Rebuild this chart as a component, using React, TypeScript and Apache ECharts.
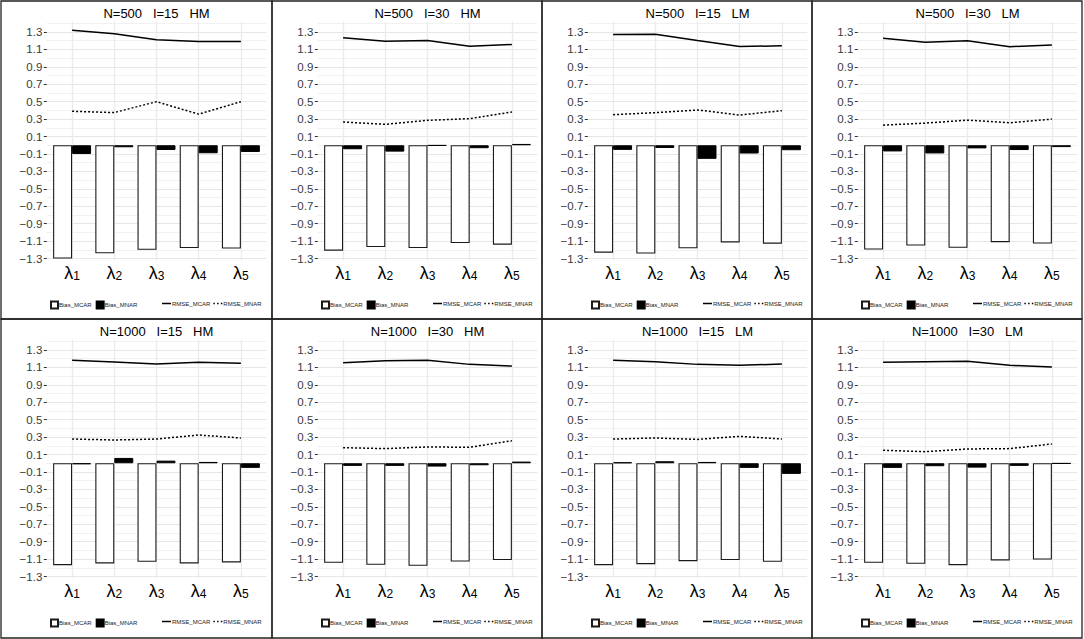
import React, { useEffect, useRef } from 'react';
import * as echarts from 'echarts';

// ---------- data ----------
const categories = ['λ1', 'λ2', 'λ3', 'λ4', 'λ5'];

const panelTitles = [
  'N=500   I=15   HM',
  'N=500   I=30   HM',
  'N=500   I=15   LM',
  'N=500   I=30   LM',
  'N=1000   I=15   HM',
  'N=1000   I=30   HM',
  'N=1000   I=15   LM',
  'N=1000   I=30   LM',
];

const seriesNames = ['Bias_MCAR', 'Bias_MNAR', 'RMSE_MCAR', 'RMSE_MNAR'];

const biasMCAR = [
  [-1.3, -1.24, -1.2, -1.18, -1.185],
  [-1.21, -1.168, -1.18, -1.122, -1.141],
  [-1.233, -1.244, -1.183, -1.115, -1.13],
  [-1.197, -1.151, -1.178, -1.113, -1.128],
  [-1.17, -1.15, -1.131, -1.15, -1.139],
  [-1.143, -1.166, -1.177, -1.128, -1.112],
  [-1.17, -1.158, -1.124, -1.112, -1.131],
  [-1.143, -1.154, -1.17, -1.116, -1.105],
];

const biasMNAR = [
  [-0.1, -0.023, -0.054, -0.092, -0.077],
  [-0.046, -0.073, -0.004, -0.034, 0.015],
  [-0.053, -0.031, -0.156, -0.095, -0.057],
  [-0.071, -0.094, -0.036, -0.055, -0.021],
  [-0.011, 0.061, 0.03, 0.015, -0.053],
  [-0.03, -0.03, -0.038, -0.023, 0.019],
  [0.011, 0.023, 0.015, -0.053, -0.122],
  [-0.053, -0.034, -0.05, -0.03, -0.004],
];

const rmseMCAR = [
  [1.32, 1.28, 1.21, 1.19, 1.19],
  [1.233, 1.195, 1.202, 1.137, 1.156],
  [1.271, 1.275, 1.202, 1.134, 1.141],
  [1.227, 1.181, 1.2, 1.132, 1.151],
  [1.181, 1.162, 1.139, 1.158, 1.147],
  [1.154, 1.177, 1.181, 1.135, 1.116],
  [1.181, 1.166, 1.135, 1.124, 1.139],
  [1.158, 1.166, 1.17, 1.124, 1.105],
];

const rmseMNAR = [
  [0.39, 0.375, 0.5, 0.357, 0.5],
  [0.267, 0.24, 0.286, 0.305, 0.382],
  [0.351, 0.374, 0.405, 0.347, 0.397],
  [0.231, 0.254, 0.288, 0.258, 0.3],
  [0.278, 0.267, 0.278, 0.324, 0.29],
  [0.179, 0.168, 0.187, 0.183, 0.259],
  [0.278, 0.29, 0.274, 0.309, 0.278],
  [0.149, 0.133, 0.164, 0.168, 0.221],
];

// y axis tick labels: -1.3 .. 1.3 every 0.2; grid lines every 0.1
const yLabelMin = -1.3;
const yLabelMax = 1.3;
const yLabelStep = 0.2;
const yGridMin = -1.3;
const yGridMax = 1.4;
const yGridStep = 0.1;
const yViewMin = -1.32;
const yViewMax = 1.42;

// ---------- layout ----------
const FONT = '"Liberation Sans", Arial, Helvetica, sans-serif';
const COL_EDGES = [1, 272, 542, 812, 1082];
const ROW_EDGES = [1, 319, 638];
const UNIT = 42.2; // px per category
const PX_PER_Y = 226.5 / 2.6;

const SOLID_ICON = 'path://M0,0H12V2H0Z';
const DASH_ICON = 'path://M0,0H2V2H0ZM5,0H7V2H5ZM10,0H12V2H10Z';

function fmtY(v: number): string {
  const r = Math.round(v * 10) / 10;
  const s = Math.abs(r).toFixed(1);
  return r < 0 ? '\u2212' + s : s;
}

function buildOption() {
  const grid: any[] = [];
  const xAxis: any[] = [];
  const yAxis: any[] = [];
  const series: any[] = [];
  const legend: any[] = [];
  const graphic: any[] = [];

  for (let p = 0; p < 8; p++) {
    const c = p % 4;
    const r = Math.floor(p / 4);
    const xb = COL_EDGES[c];
    const yb = ROW_EDGES[r];
    const yPix = (v: number) => yb + 31 + (1.3 - v) * PX_PER_Y;

    const gA = grid.length;
    grid.push({
      left: xb + 50,
      top: yPix(yViewMax),
      width: 5 * UNIT,
      height: yPix(yViewMin) - yPix(yViewMax),
      containLabel: false,
      outerBoundsMode: 'none',
    });
    grid.push({
      left: xb + 45.8,
      top: yPix(yGridMax),
      width: 5.2 * UNIT,
      height: yPix(yGridMin) - yPix(yGridMax),
      containLabel: false,
      outerBoundsMode: 'none',
    });
    grid.push({
      left: xb + 45.8,
      top: yPix(yLabelMax),
      width: 5.2 * UNIT,
      height: yPix(yLabelMin) - yPix(yLabelMax),
      containLabel: false,
      outerBoundsMode: 'none',
    });

    const xi = xAxis.length;
    xAxis.push({
      type: 'category',
      gridIndex: gA,
      data: categories,
      axisLine: { show: false },
      axisTick: { show: false },
      splitLine: { show: false },
      axisLabel: {
        interval: 0,
        margin: 2,
        formatter: (v: string) => `{l|${v.charAt(0)}}{s|${v.slice(1)}}`,
        rich: {
          l: { fontSize: 18, lineHeight: 20, color: '#000', fontFamily: FONT, verticalAlign: 'bottom' },
          s: { fontSize: 12, lineHeight: 12, color: '#000', fontFamily: FONT, verticalAlign: 'bottom' },
        },
      },
    });
    xAxis.push({
      type: 'category',
      gridIndex: gA,
      boundaryGap: false,
      data: Array.from({ length: 11 }, (_, i) => String(i)),
      axisLine: { show: false },
      axisTick: { show: false },
      axisLabel: { show: false },
      splitLine: {
        show: true,
        interval: (i: number) => i % 2 === 1,
        lineStyle: { color: '#ebebeb', width: 1.3 },
      },
    });
    xAxis.push({ type: 'value', gridIndex: gA + 1, show: false });
    xAxis.push({ type: 'value', gridIndex: gA + 2, show: false });

    const yi = yAxis.length;
    yAxis.push({ type: 'value', gridIndex: gA, min: yViewMin, max: yViewMax, show: false });
    yAxis.push({
      type: 'value',
      gridIndex: gA + 1,
      min: yGridMin,
      max: yGridMax,
      interval: yGridStep,
      axisLine: { show: false },
      axisTick: { show: false },
      axisLabel: { show: false },
      splitLine: { show: true, lineStyle: { color: ['#e6e6e6', '#f1f1f1'], width: 1 } },
    });
    yAxis.push({
      type: 'value',
      gridIndex: gA + 2,
      min: yLabelMin,
      max: yLabelMax,
      interval: yLabelStep,
      axisLine: { show: false },
      axisTick: { show: true, length: 3, lineStyle: { color: '#333', width: 1 } },
      splitLine: { show: false },
      axisLabel: {
        show: true,
        margin: 4.5,
        fontSize: 11.5,
        color: '#3a3a3a',
        fontFamily: FONT,
        showMinLabel: true,
        showMaxLabel: true,
        formatter: (v: number) => fmtY(v),
      },
    });

    series.push({
      type: 'bar',
      name: seriesNames[0],
      xAxisIndex: xi,
      yAxisIndex: yi,
      data: biasMCAR[p],
      barWidth: 0.45 * UNIT,
      barGap: '0%',
      itemStyle: { color: '#ffffff', borderColor: '#1a1a1a', borderWidth: 1.1 },
      z: 2,
    });
    series.push({
      type: 'bar',
      name: seriesNames[1],
      xAxisIndex: xi,
      yAxisIndex: yi,
      data: biasMNAR[p],
      barWidth: 0.45 * UNIT,
      barGap: '0%',
      itemStyle: { color: '#000000', borderColor: '#000000', borderWidth: 1 },
      z: 2,
    });
    series.push({
      type: 'line',
      name: seriesNames[2],
      xAxisIndex: xi,
      yAxisIndex: yi,
      data: rmseMCAR[p],
      symbol: 'none',
      itemStyle: { color: '#000' },
      lineStyle: { color: '#000', width: 1.5 },
      z: 3,
    });
    series.push({
      type: 'line',
      name: seriesNames[3],
      xAxisIndex: xi,
      yAxisIndex: yi,
      data: rmseMNAR[p],
      symbol: 'none',
      itemStyle: { color: '#000' },
      lineStyle: { color: '#000', width: 1.5, type: [2, 2] },
      z: 3,
    });

    legend.push({
      left: xb + 49,
      top: yb + 299.5,
      orient: 'horizontal',
      padding: 0,
      itemGap: 4,
      itemWidth: 7,
      itemHeight: 7,
      icon: 'rect',
      selectedMode: false,
      data: [seriesNames[0], seriesNames[1]],
      textStyle: { fontSize: 6, color: '#222', fontFamily: FONT, padding: [0, 0, 0, -4] },
    });
    legend.push({
      left: xb + 161,
      top: yb + 299.5,
      orient: 'horizontal',
      padding: 0,
      itemGap: 3,
      itemWidth: 9,
      itemHeight: 1.5,
      symbolKeepAspect: false,
      selectedMode: false,
      data: [
        { name: seriesNames[2], icon: SOLID_ICON },
        { name: seriesNames[3], icon: DASH_ICON },
      ],
      textStyle: { fontSize: 6, color: '#222', fontFamily: FONT, padding: [0, 0, 0, -4] },
    });

    graphic.push({
      type: 'text',
      x: xb + 45.8 + 2.6 * UNIT,
      y: yb + 12,
      silent: true,
      style: {
        text: panelTitles[p],
        fontSize: 13,
        fontFamily: FONT,
        fill: '#000',
        align: 'center',
        verticalAlign: 'middle',
      },
    });
    graphic.push({
      type: 'rect',
      silent: true,
      z: 100,
      shape: { x: xb, y: yb, width: COL_EDGES[c + 1] - xb, height: ROW_EDGES[r + 1] - yb },
      style: { fill: 'none', stroke: '#222', lineWidth: 1.3 },
    });
  }

  return {
    animation: false,
    backgroundColor: '#ffffff',
    textStyle: { fontFamily: FONT },
    grid,
    xAxis,
    yAxis,
    series,
    legend,
    graphic,
  };
}

export default function App() {
  const ref = useRef<HTMLDivElement>(null);
  useEffect(() => {
    if (!ref.current) return;
    const chart = echarts.init(ref.current, undefined, { renderer: 'svg', width: 1084, height: 639 });
    chart.setOption(buildOption() as any);
    return () => {
      chart.dispose();
    };
  }, []);
  return (
    <div
      ref={ref}
      style={{ position: 'absolute', left: 0, top: 0, width: 1084, height: 639, background: '#fff' }}
    />
  );
}
